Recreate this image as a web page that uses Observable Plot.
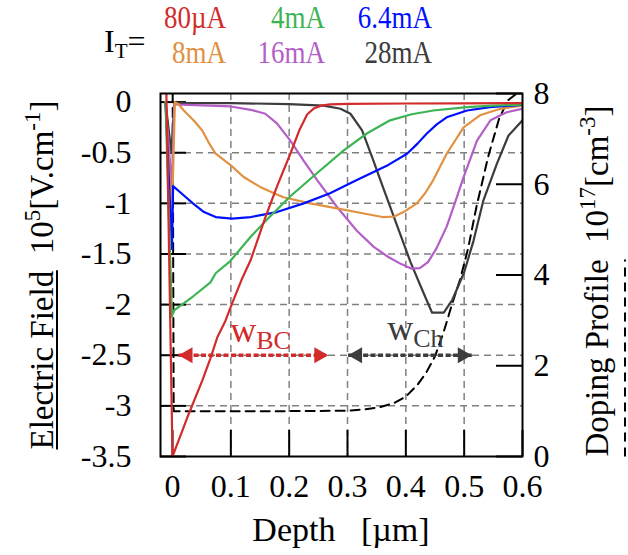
<!DOCTYPE html>
<html><head><meta charset="utf-8">
<script src="https://cdn.jsdelivr.net/npm/d3@7"></script>
<script src="https://cdn.jsdelivr.net/npm/@observablehq/plot@0.6"></script>
<style>
body{margin:0;background:#fff;}
svg text{font-family:"Liberation Serif","Times New Roman",serif;}
</style>
</head><body><div id="chart"></div>
<script>
// ---- axes / ticks ----
const xDomain = [-0.0206, 0.6];
const yTop = 0.085;
const fieldTicks = [0, -0.5, -1, -1.5, -2, -2.5, -3, -3.5];
const fieldGrid = [-0.5, -1, -1.5, -2, -2.5, -3];
const depthTicks = [0, 0.1, 0.2, 0.3, 0.4, 0.5, 0.6];
const depthGrid = [0.1, 0.2, 0.3, 0.4, 0.5];
const dopingTicks = [0, 2, 4, 6, 8];
const dopingMax = 8;

// ---- legend ----
const currents = ["80µA", "4mA", "6.4mA", "8mA", "16mA", "28mA"];
const currentColors = ["#d22b2b", "#3db454", "#0010ff", "#e19141", "#b45fc8", "#3c3c3c"];

// ---- electric field series (depth in µm, field in 1e5 V/cm) ----
const depth80uA = [-0.0105, 0.0, 0.025, 0.051, 0.065, 0.077, 0.09, 0.102, 0.118, 0.134, 0.159, 0.18, 0.202, 0.218, 0.231, 0.243, 0.255, 0.27, 0.3, 0.4, 0.5, 0.6];
const field80uA = [0.085, -3.5, -3.12, -2.75, -2.53, -2.32, -2.17, -1.99, -1.76, -1.56, -1.14, -0.82, -0.51, -0.27, -0.12, -0.06, -0.035, -0.022, -0.018, -0.014, -0.012, -0.01];

const depth4mA = [-0.012, -0.001, 0.002, 0.035, 0.065, 0.074, 0.099, 0.134, 0.162, 0.202, 0.248, 0.293, 0.333, 0.373, 0.41, 0.447, 0.505, 0.55, 0.6];
const field4mA = [0, -2.12, -2.06, -1.92, -1.78, -1.69, -1.57, -1.33, -1.16, -0.93, -0.7, -0.48, -0.31, -0.18, -0.12, -0.083, -0.05, -0.035, -0.024];

const depth6_4mA = [-0.012, -0.001, 0.001, 0.019, 0.035, 0.054, 0.074, 0.102, 0.134, 0.179, 0.225, 0.27, 0.316, 0.37, 0.402, 0.42, 0.436, 0.453, 0.47, 0.505, 0.544, 0.6];
const field6_4mA = [0, -1.45, -0.83, -0.92, -1.0, -1.086, -1.135, -1.15, -1.135, -1.086, -1.0, -0.9, -0.77, -0.62, -0.51, -0.41, -0.31, -0.22, -0.15, -0.083, -0.05, -0.027];

const depth8mA = [-0.012, -0.001, 0.004, 0.01, 0.019, 0.036, 0.051, 0.062, 0.074, 0.1, 0.122, 0.151, 0.19, 0.236, 0.282, 0.328, 0.36, 0.38, 0.396, 0.419, 0.433, 0.447, 0.47, 0.499, 0.527, 0.562, 0.6];
const field8mA = [0, -1.15, 0.0, -0.02, -0.08, -0.18, -0.28, -0.4, -0.51, -0.625, -0.74, -0.84, -0.94, -1.0, -1.05, -1.1, -1.135, -1.13, -1.086, -1.0, -0.9, -0.77, -0.51, -0.25, -0.13, -0.066, -0.034];

const depth16mA = [-0.012, -0.001, 0.003, 0.014, 0.1, 0.134, 0.159, 0.179, 0.202, 0.225, 0.248, 0.282, 0.316, 0.345, 0.37, 0.392, 0.41, 0.424, 0.438, 0.452, 0.47, 0.485, 0.499, 0.522, 0.545, 0.573, 0.6];
const field16mA = [0, -0.85, -0.02, -0.024, -0.043, -0.076, -0.115, -0.21, -0.38, -0.58, -0.77, -1.036, -1.27, -1.43, -1.53, -1.6, -1.645, -1.64, -1.58, -1.45, -1.23, -0.98, -0.74, -0.38, -0.18, -0.1, -0.066];

const depth28mA = [-0.012, -0.002, 0.003, 0.1, 0.2, 0.259, 0.288, 0.305, 0.325, 0.342, 0.362, 0.385, 0.408, 0.43, 0.445, 0.465, 0.48, 0.5, 0.516, 0.533, 0.556, 0.576, 0.6];
const field28mA = [0, -0.5, -0.01, -0.01, -0.02, -0.034, -0.066, -0.115, -0.28, -0.54, -0.86, -1.22, -1.58, -1.88, -2.08, -2.08, -1.95, -1.68, -1.37, -0.97, -0.61, -0.33, -0.18];

// ---- doping profile (1e17 cm^-3, right axis) ----
const depthDoping = [0, 0.002, 0.1, 0.2, 0.3, 0.33, 0.356, 0.38, 0.4, 0.42, 0.435, 0.45, 0.465, 0.479, 0.493, 0.507, 0.521, 0.541, 0.56, 0.575, 0.59, 0.6];
const doping = [9, 1.0, 1.0, 1.0, 1.01, 1.04, 1.09, 1.18, 1.32, 1.58, 1.85, 2.21, 2.75, 3.35, 3.9, 4.6, 5.5, 6.6, 7.45, 7.85, 8.0, 8.05];

// ---- width arrows ----
const arrowNames = ["BC", "Ch"];
const arrowStart = [0.0103, 0.301];
const arrowEnd = [0.267, 0.513];
const arrowField = [-2.5, -2.5];
const arrowColors = ["#d22b2b", "#3c3c3c"];
const arrowLabelX = [0.099, 0.368];
const arrowLabelY = [-2.37, -2.35];

// ---- build ----
const W = 628, H = 555, mL = 160, mR = 106, mT = 93, mB = 99;
const plotW = W - mL - mR, plotH = H - mT - mB;
const toField = d => -3.5 + d * (yTop + 3.5) / dopingMax;
const fromField = v => (v + 3.5) * dopingMax / (yTop + 3.5);

const series = [
  {depth: depth28mA, field: field28mA, color: currentColors[5]},
  {depth: depth16mA, field: field16mA, color: currentColors[4]},
  {depth: depth8mA, field: field8mA, color: currentColors[3]},
  {depth: depth6_4mA, field: field6_4mA, color: currentColors[2]},
  {depth: depth4mA, field: field4mA, color: currentColors[1]},
  {depth: depth80uA, field: field80uA, color: currentColors[0]}
];
const dopingRows = depthDoping.map((d, i) => ({depth: d, field: toField(doping[i])}));

const tickStyle = {stroke: "black", strokeWidth: 2};
const gridStyle = {stroke: "#808080", strokeOpacity: 1, strokeWidth: 1.5, strokeDasharray: "7,5"};
const fmt = d => d === 0 ? "0" : String(d);

const chart = Plot.plot({
  width: W, height: H,
  marginLeft: mL, marginRight: mR, marginTop: mT, marginBottom: mB,
  style: {fontFamily: '"Liberation Serif", serif', fontSize: "32px", color: "black", background: "white"},
  x: {domain: xDomain, axis: null},
  y: {domain: [-3.5, yTop], axis: null},
  marks: [
    Plot.gridX(depthGrid, gridStyle),
    Plot.gridY(fieldGrid, gridStyle),
    Plot.ruleX(depthTicks, {...tickStyle, insetTop: plotH - 26}),
    Plot.ruleY(fieldTicks, {...tickStyle, insetRight: plotW - 26}),
    Plot.ruleY(dopingTicks.map(toField), {...tickStyle, insetLeft: plotW - 26}),
    Plot.axisX(depthTicks, {tickSize: 0, tickPadding: 18, tickFormat: d => d === 0 ? "0" : d.toFixed(1), fontSize: 32, label: null}),
    Plot.axisY(fieldTicks, {anchor: "left", tickSize: 0, tickPadding: 29, tickFormat: fmt, fontSize: 32, label: null}),
    Plot.axisY(dopingTicks.map(toField), {anchor: "right", tickSize: 0, tickPadding: 11, tickFormat: v => String(Math.round(fromField(v))), fontSize: 32, label: null}),
    Plot.line(dopingRows, {x: "depth", y: "field", stroke: "black", strokeWidth: 2, strokeDasharray: "9,6", clip: true}),
    ...series.map(s => Plot.line(s.depth.map((d, i) => ({depth: d, field: s.field[i]})),
      {x: "depth", y: "field", stroke: s.color, strokeWidth: 2.2, clip: true})),
    Plot.link(arrowStart, {x1: arrowStart, x2: arrowEnd, y1: arrowField, y2: arrowField, stroke: arrowColors, strokeWidth: 3.5, strokeDasharray: "5,2.5"}),
    Plot.dot(arrowStart, {x: arrowStart, y: arrowField, symbol: "triangle", r: 6, rotate: -90, fill: arrowColors, dx: 9.3}),
    Plot.dot(arrowEnd, {x: arrowEnd, y: arrowField, symbol: "triangle", r: 6, rotate: 90, fill: arrowColors, dx: -9.3}),
    Plot.text(arrowNames, {x: arrowLabelX, y: arrowLabelY, text: () => "w", fill: arrowColors, fontSize: 36, textAnchor: "start", lineAnchor: "bottom"}),
    Plot.text(arrowNames, {x: arrowLabelX, y: arrowLabelY, text: d => d, fill: arrowColors, fontSize: 26, textAnchor: "start", lineAnchor: "bottom", dx: 26, dy: 7}),
    Plot.frame({stroke: "black", strokeWidth: 2})
  ]
});
document.getElementById("chart").appendChild(chart);

// ---- text annotations: legend and axis titles ----
const svg = d3.select(chart);
const ff = '"Liberation Serif", serif';

// I_T=
const it = svg.append("text").attr("x", 104).attr("y", 52).attr("text-anchor", "start")
  .attr("font-family", ff).attr("font-size", 32).attr("fill", "black");
it.append("tspan").text("I");
it.append("tspan").attr("font-size", 21).attr("dy", 6).text("T");
it.append("tspan").attr("dy", -6).text("=");

const colRight = [226, 325, 432];
const rowBase = [28, 63];
currents.forEach((c, i) => {
  svg.append("g")
    .attr("transform", `translate(${colRight[i % 3]},${rowBase[Math.floor(i / 3)]}) scale(1,1.15)`)
    .append("text")
    .attr("text-anchor", "end").attr("font-family", ff).attr("font-size", 27)
    .attr("fill", currentColors[i]).text(c);
});

// x title
svg.append("text").attr("x", mL + plotW / 2).attr("y", 541).attr("text-anchor", "middle")
  .attr("font-family", ff).attr("font-size", 34).attr("fill", "black").text("Depth\u00a0\u00a0\u00a0[µm]");

function rotatedTitle(cx, cy, main, parts, underlineOffset, dash) {
  const g = svg.append("g").attr("transform", `translate(${cx},${cy}) rotate(-90)`);
  const t = g.append("text").attr("font-family", ff).attr("font-size", 33).attr("fill", "black")
    .attr("x", 0).attr("y", 0).attr("text-anchor", "middle");
  const first = t.append("tspan").text(main);
  parts.forEach(p => {
    const ts = t.append("tspan").text(p.t);
    if (p.sup) ts.attr("font-size", 23).attr("dy", -13);
    if (p.back) ts.attr("dy", 13);
  });
  const bb = first.node().getBBox();
  g.append("line").attr("x1", bb.x).attr("x2", bb.x + bb.width)
    .attr("y1", underlineOffset).attr("y2", underlineOffset)
    .attr("stroke", "black").attr("stroke-width", 2)
    .attr("stroke-dasharray", dash || null);
}
rotatedTitle(53, 275, "Electric Field", [
  {t: "\u00a0\u00a010"}, {t: "5", sup: true}, {t: "[V.cm", back: true}, {t: "-1", sup: true}, {t: "]", back: true}
], 4, null);
rotatedTitle(608, 281, "Doping Profile", [
  {t: "\u00a0\u00a010"}, {t: "17", sup: true}, {t: "[cm", back: true}, {t: "-3", sup: true}, {t: "]", back: true}
], 17, "9,6");
</script>
</body></html>
